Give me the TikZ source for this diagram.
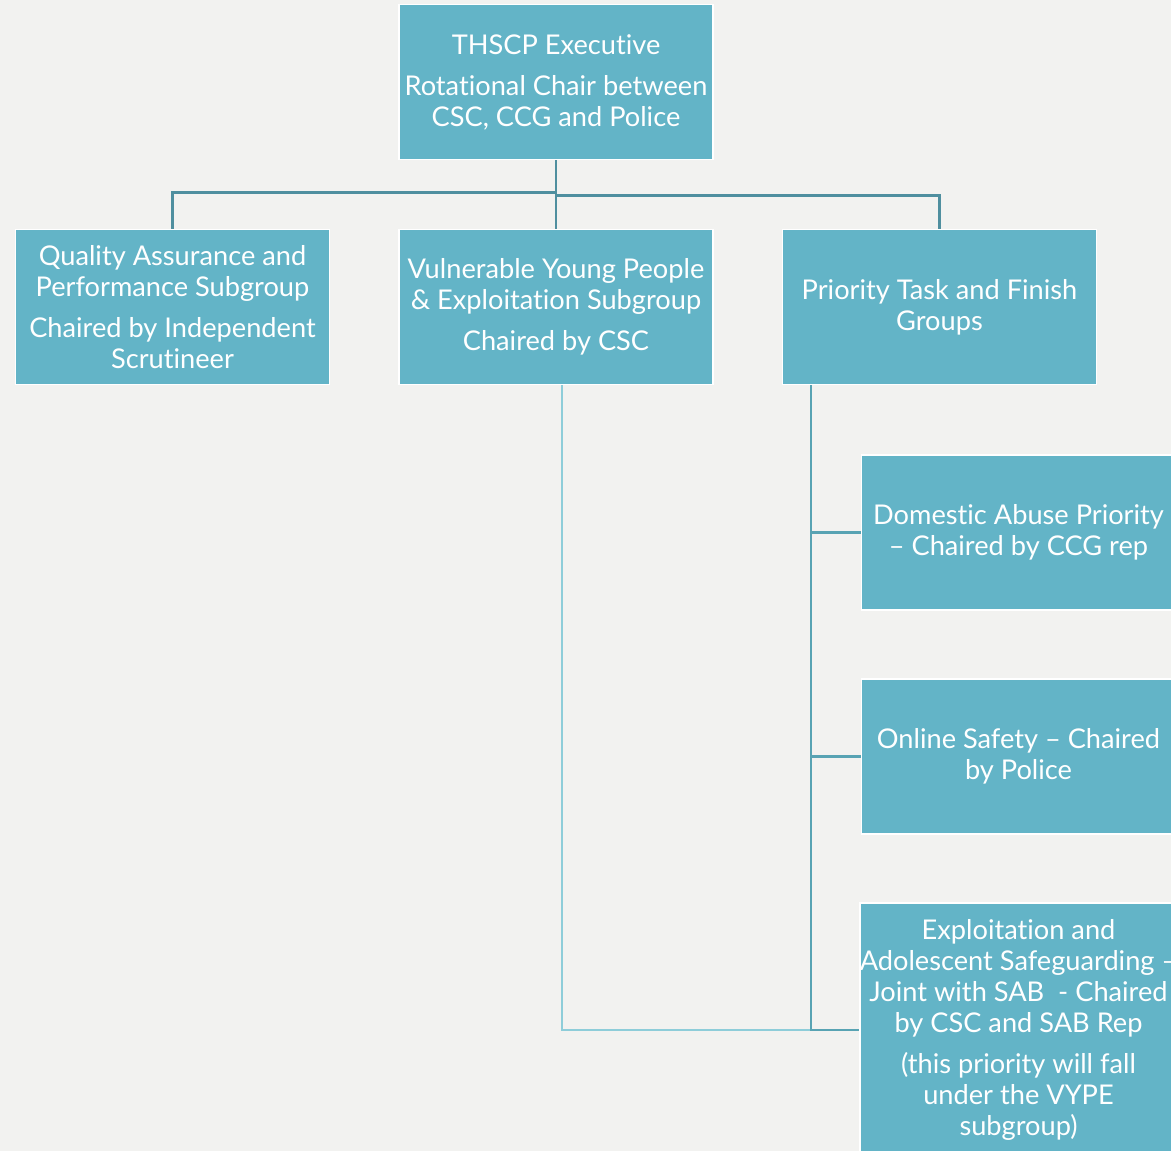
\documentclass[tikz,border=0pt]{standalone}
\usepackage{fontspec}
\setmainfont[Ligatures=NoCommon]{Lato}
\definecolor{bg}{HTML}{F2F2F0}
\definecolor{boxfill}{HTML}{63B4C7}
\definecolor{darkline}{HTML}{4F8F9F}
\definecolor{midline}{HTML}{58A3B3}
\definecolor{lightline}{HTML}{8ECDD9}
\tikzset{
  orgbox/.style={draw=white, line width=1.5pt, fill=boxfill, text=white,
    minimum width=314pt, minimum height=155pt, align=center, inner sep=0pt,
    font=\fontsize{27.2}{31}\selectfont},
  darkconn/.style={draw=darkline, line width=2.6pt},
  trunkconn/.style={draw=midline, line width=2.6pt},
  lightconn/.style={draw=lightline, line width=1.5pt},
}
\begin{document}
\begin{tikzpicture}[x=1pt,y=-1pt]
\fill[bg] (0,0) rectangle (1171,1151);
\clip (0,0) rectangle (1171,1151);
\node[orgbox] (top) at (556,82) {THSCP Executive\\[10pt]Rotational Chair between\\CSC, CCG and Police};
\node[orgbox] (left) at (172.5,307) {Quality Assurance and\\Performance Subgroup\\[10pt]Chaired by Independent\\Scrutineer};
\node[orgbox] (mid) at (556,307) {Vulnerable Young People\\\& Exploitation Subgroup\\[10pt]Chaired by CSC};
\node[orgbox] (right) at (939.5,307) {Priority Task and Finish\\Groups};
\node[orgbox] (r1) at (1018.5,532.5) {Domestic Abuse Priority\\– Chaired by CCG rep};
\node[orgbox] (r2) at (1018.5,756.5) {Online Safety – Chaired\\by Police};
\node[orgbox, minimum height=254pt] (r3) at (1018.5,1030) {Exploitation and\\Adolescent Safeguarding –\\Joint with SAB \ - Chaired\\by CSC and SAB Rep\\[10pt](this priority will fall\\under the VYPE\\subgroup)};
% connectors from executive
\draw[darkconn] (top.south) -- (mid.north);
\draw[darkconn] (left.north) -- ++(0,-36) -| (top.south);
\draw[darkconn] (right.north) -- ++(0,-33) -| (top.south);
% VYPE line
\coordinate (vy) at ([xshift=6pt]mid.south);
\draw[lightconn] (vy) |- (r3.west);
% priority trunk
\coordinate (tk) at ([xshift=-128.5pt]right.south);
\draw[trunkconn] (tk) |- (r3.west);
\draw[trunkconn] (r1.west) -- (r1.west -| tk);
\draw[trunkconn] (r2.west) -- (r2.west -| tk);
\end{tikzpicture}
\end{document}
